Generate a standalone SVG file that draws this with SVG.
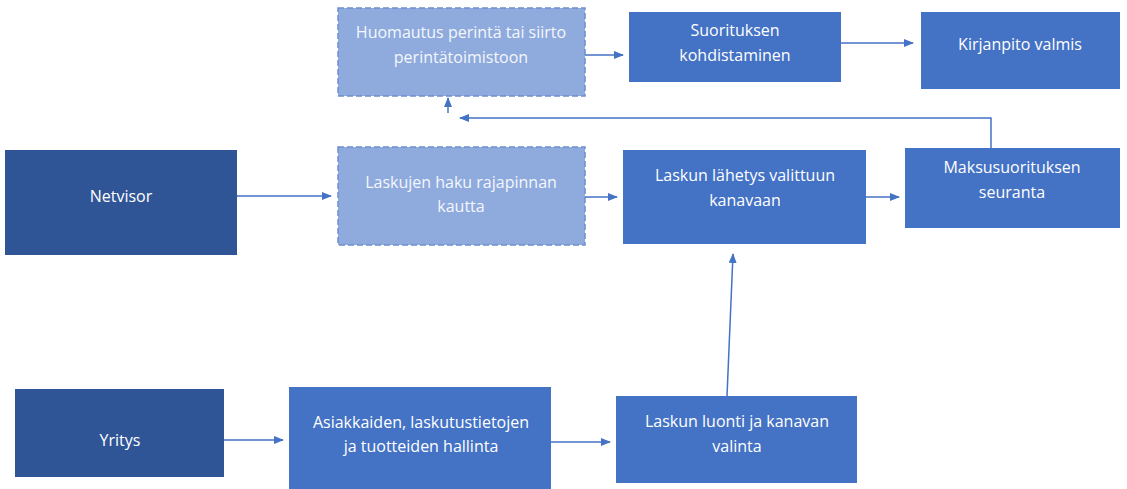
<svg xmlns="http://www.w3.org/2000/svg" width="1127" height="489" viewBox="0 0 1127 489">
<defs>
<marker id="ah" markerWidth="10" markerHeight="8" refX="9" refY="4" orient="auto" markerUnits="userSpaceOnUse">
<path d="M0,0 L10,4 L0,8 Z" fill="#4472C4"/>
</marker>
<style>
.dark{fill:#2F5597;}
.mid{fill:#4472C4;}
.light{fill:#8FAADC;stroke:#6E8FD0;stroke-width:1.5;stroke-dasharray:6 3;}
.t{font-family:"Open Sans","Liberation Sans",sans-serif;font-size:16px;fill:#FFFFFF;text-anchor:middle;dominant-baseline:central;}
.tl{fill:#F4F7FC;}
.c{fill:none;stroke:#4472C4;stroke-width:1.5;marker-end:url(#ah);}
</style>
</defs>
<rect width="1127" height="489" fill="#FFFFFF"/>
<g id="huomautus">
<rect class="light" x="338" y="8" width="247" height="88"/>
<text class="t tl" x="461" y="32">Huomautus perintä tai siirto</text>
<text class="t tl" x="461" y="57">perintätoimistoon</text>
</g>
<g id="suorituksen">
<rect class="mid" x="629" y="12" width="212" height="70"/>
<text class="t" x="735" y="30">Suorituksen</text>
<text class="t" x="735" y="55">kohdistaminen</text>
</g>
<g id="kirjanpito">
<rect class="mid" x="921" y="12" width="199" height="77"/>
<text class="t" x="1020" y="44">Kirjanpito valmis</text>
</g>
<g id="netvisor">
<rect class="dark" x="5" y="150" width="232" height="105"/>
<text class="t" x="121" y="196">Netvisor</text>
</g>
<g id="laskujen">
<rect class="light" x="338" y="147" width="247" height="98"/>
<text class="t tl" x="461" y="182">Laskujen haku rajapinnan</text>
<text class="t tl" x="461" y="206">kautta</text>
</g>
<g id="lahetys">
<rect class="mid" x="623" y="150" width="243" height="94"/>
<text class="t" x="745" y="175">Laskun lähetys valittuun</text>
<text class="t" x="745" y="200">kanavaan</text>
</g>
<g id="maksusuoritus">
<rect class="mid" x="905" y="148" width="215" height="80"/>
<text class="t" x="1012" y="167">Maksusuorituksen</text>
<text class="t" x="1012" y="192">seuranta</text>
</g>
<g id="yritys">
<rect class="dark" x="15" y="389" width="209" height="88"/>
<text class="t" x="120" y="440">Yritys</text>
</g>
<g id="asiakkaiden">
<rect class="mid" x="289" y="387" width="262" height="102"/>
<text class="t" x="421" y="422">Asiakkaiden, laskutustietojen</text>
<text class="t" x="421" y="446">ja tuotteiden hallinta</text>
</g>
<g id="luonti">
<rect class="mid" x="616" y="396" width="241" height="87"/>
<text class="t" x="737" y="421">Laskun luonti ja kanavan</text>
<text class="t" x="737" y="446">valinta</text>
</g>
<g id="connectors">
<path class="c" d="M585,55 L623,55"/>
<path class="c" d="M841,43 L913,43"/>
<path class="c" d="M991,148 L991,118 L460,118"/>
<path class="c" d="M448,113 L448,98"/>
<path class="c" d="M237,196 L331,196"/>
<path class="c" d="M585,197 L617,197"/>
<path class="c" d="M866,197 L899,197"/>
<path class="c" d="M224,440 L283,440"/>
<path class="c" d="M551,442 L610,442"/>
<path class="c" d="M727,396 L733,254"/>
</g>
</svg>
